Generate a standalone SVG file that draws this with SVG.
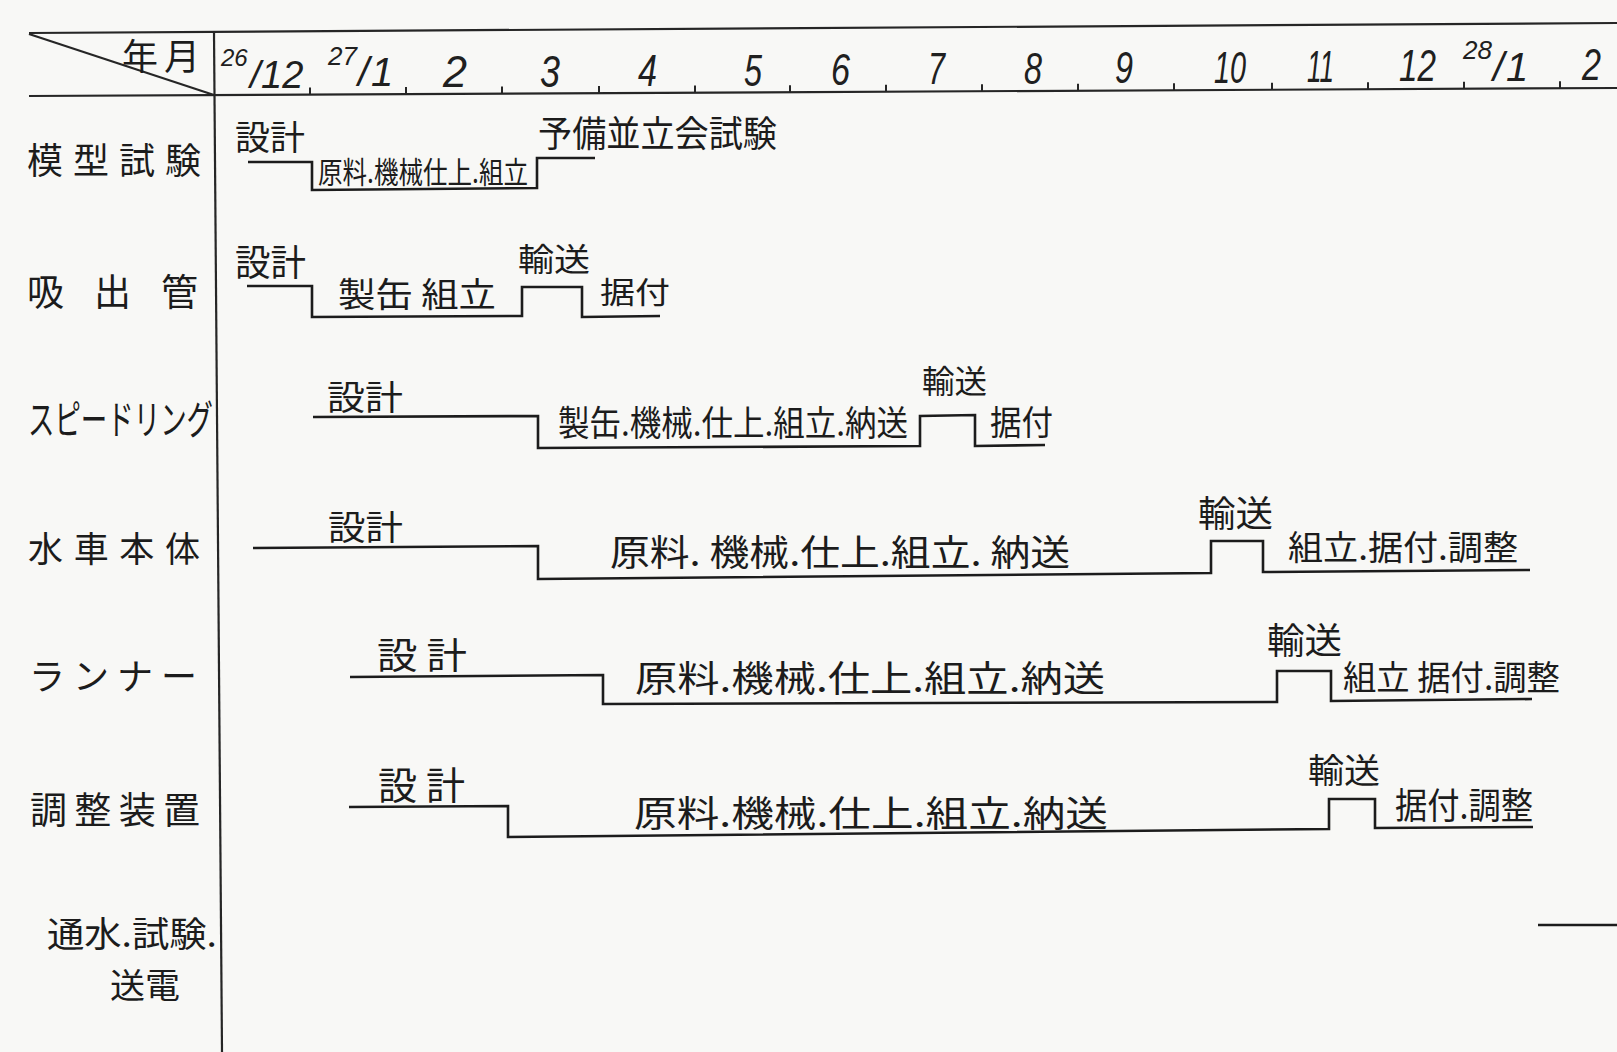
<svg xmlns="http://www.w3.org/2000/svg" width="1617" height="1052" viewBox="0 0 1617 1052">
<style>
.jp{font-family:"Noto Sans CJK JP","Noto Sans CJK SC",sans-serif;fill:#1c1c1c;}
.num{font-family:"Liberation Sans",Arial,sans-serif;font-style:italic;fill:#202020;}
.bar{fill:none;stroke:#1c1c1c;stroke-width:2.6;stroke-linejoin:miter;stroke-linecap:butt;}
.grid{fill:none;stroke:#262626;stroke-width:2.2;}
.tick{fill:none;stroke:#262626;stroke-width:2;}
</style>
<rect x="0" y="0" width="1617" height="1052" fill="#f8f8f6"/>

<g id="header">
  <path class="grid" d="M29,33 L1617,23"/>
  <path class="grid" d="M29,34 L214,95" stroke-width="1.6"/>
  <path class="grid" d="M29,96 L1617,88"/>
  <path class="grid" d="M214,33 L222,1052"/>
  <path class="tick" d="M310,94.6 v-7 M406,94.1 v-7 M502,93.6 v-7 M599,93.1 v-7 M695,92.6 v-7 M790,92.2 v-7 M886,91.7 v-7 M982,91.2 v-7 M1078,90.7 v-7 M1174,90.2 v-7 M1272,89.7 v-7 M1368,89.3 v-7 M1464,88.8 v-7 M1560,88.3 v-7"/>
  <text class="jp" x="122" y="70" font-size="36" textLength="78" lengthAdjust="spacing">年月</text>
  <text class="num" font-size="38"><tspan x="221" y="66" font-size="24">26</tspan><tspan x="250" y="88">/</tspan><tspan x="261" y="88">12</tspan></text>
  <text class="num" font-size="40"><tspan x="328" y="65" font-size="26">27</tspan><tspan x="358" y="86">/</tspan><tspan x="371" y="86">1</tspan></text>
  <text class="num" x="443" y="87" font-size="44" textLength="24" lengthAdjust="spacingAndGlyphs">2</text>
  <text class="num" x="540" y="87" font-size="44" textLength="20" lengthAdjust="spacingAndGlyphs">3</text>
  <text class="num" x="638" y="86" font-size="44" textLength="19" lengthAdjust="spacingAndGlyphs">4</text>
  <text class="num" x="744" y="86" font-size="44" textLength="18" lengthAdjust="spacingAndGlyphs">5</text>
  <text class="num" x="831" y="85" font-size="44" textLength="19" lengthAdjust="spacingAndGlyphs">6</text>
  <text class="num" x="928" y="84" font-size="44" textLength="17" lengthAdjust="spacingAndGlyphs">7</text>
  <text class="num" x="1024" y="84" font-size="44" textLength="18" lengthAdjust="spacingAndGlyphs">8</text>
  <text class="num" x="1115" y="83" font-size="44" textLength="18" lengthAdjust="spacingAndGlyphs">9</text>
  <text class="num" x="1214" y="83" font-size="44" textLength="32" lengthAdjust="spacingAndGlyphs">10</text>
  <text class="num" x="1307" y="82" font-size="44" textLength="27" lengthAdjust="spacingAndGlyphs">11</text>
  <text class="num" x="1399" y="81" font-size="44" textLength="37" lengthAdjust="spacingAndGlyphs">12</text>
  <text class="num" font-size="40"><tspan x="1463" y="59" font-size="26">28</tspan><tspan x="1493" y="81">/</tspan><tspan x="1506" y="81">1</tspan></text>
  <text class="num" x="1582" y="80" font-size="44" textLength="19" lengthAdjust="spacingAndGlyphs">2</text>
</g>

<g id="row-mokei">
  <text class="jp" x="27" y="174" font-size="36" textLength="174" lengthAdjust="spacing">模型試験</text>
  <text class="jp" x="235" y="150" font-size="34" textLength="70" lengthAdjust="spacingAndGlyphs">設計</text>
  <text class="jp" x="318" y="183" font-size="30" textLength="210" lengthAdjust="spacingAndGlyphs">原料.機械仕上.組立</text>
  <text class="jp" x="538" y="147" font-size="36" textLength="239" lengthAdjust="spacingAndGlyphs">予備並立会試験</text>
</g>

<g id="row-suidashi">
  <text class="jp" x="27" y="306" font-size="37" textLength="171" lengthAdjust="spacing">吸出管</text>
  <text class="jp" x="235" y="276" font-size="36" textLength="71" lengthAdjust="spacingAndGlyphs">設計</text>
  <text class="jp" x="338" y="307" font-size="34" textLength="158" lengthAdjust="spacingAndGlyphs">製缶 組立</text>
  <text class="jp" x="518" y="271" font-size="32" textLength="72" lengthAdjust="spacingAndGlyphs">輸送</text>
  <text class="jp" x="600" y="303" font-size="30" textLength="70" lengthAdjust="spacingAndGlyphs">据付</text>
</g>

<g id="row-speedring">
  <text class="jp" x="28" y="434" font-size="40" textLength="185" lengthAdjust="spacingAndGlyphs">スピードリング</text>
  <text class="jp" x="327" y="410" font-size="34" textLength="76" lengthAdjust="spacingAndGlyphs">設計</text>
  <text class="jp" x="558" y="436" font-size="35" textLength="350" lengthAdjust="spacingAndGlyphs">製缶.機械.仕上.組立.納送</text>
  <text class="jp" x="922" y="393" font-size="32" textLength="65" lengthAdjust="spacingAndGlyphs">輸送</text>
  <text class="jp" x="990" y="435" font-size="34" textLength="63" lengthAdjust="spacingAndGlyphs">据付</text>
</g>

<g id="row-suisha">
  <text class="jp" x="28" y="562" font-size="35" textLength="172" lengthAdjust="spacing">水車本体</text>
  <text class="jp" x="328" y="540" font-size="34" textLength="75" lengthAdjust="spacingAndGlyphs">設計</text>
  <text class="jp" x="610" y="566" font-size="36" textLength="460" lengthAdjust="spacingAndGlyphs">原料. 機械.仕上.組立. 納送</text>
  <text class="jp" x="1198" y="527" font-size="36" textLength="75" lengthAdjust="spacingAndGlyphs">輸送</text>
  <text class="jp" x="1288" y="560" font-size="34" textLength="230" lengthAdjust="spacingAndGlyphs">組立.据付.調整</text>
</g>

<g id="row-runner">
  <text class="jp" x="29" y="690" font-size="36" textLength="168" lengthAdjust="spacing">ランナー</text>
  <text class="jp" x="377" y="669" font-size="36" textLength="90" lengthAdjust="spacingAndGlyphs">設 計</text>
  <text class="jp" x="635" y="692" font-size="36" textLength="470" lengthAdjust="spacingAndGlyphs">原料.機械.仕上.組立.納送</text>
  <text class="jp" x="1267" y="654" font-size="36" textLength="75" lengthAdjust="spacingAndGlyphs">輸送</text>
  <text class="jp" x="1343" y="690" font-size="34" textLength="217" lengthAdjust="spacingAndGlyphs">組立 据付.調整</text>
</g>

<g id="row-chosei">
  <text class="jp" x="30" y="824" font-size="37" textLength="170" lengthAdjust="spacing">調整装置</text>
  <text class="jp" x="378" y="799" font-size="38" textLength="87" lengthAdjust="spacingAndGlyphs">設 計</text>
  <text class="jp" x="634" y="827" font-size="36" textLength="474" lengthAdjust="spacingAndGlyphs">原料.機械.仕上.組立.納送</text>
  <text class="jp" x="1308" y="783" font-size="34" textLength="72" lengthAdjust="spacingAndGlyphs">輸送</text>
  <text class="jp" x="1395" y="819" font-size="36" textLength="138" lengthAdjust="spacingAndGlyphs">据付.調整</text>
</g>

<g id="row-tsusui">
  <text class="jp" x="47" y="947" font-size="35" textLength="170" lengthAdjust="spacingAndGlyphs">通水.試験.</text>
  <text class="jp" x="110" y="998" font-size="34" textLength="70" lengthAdjust="spacingAndGlyphs">送電</text>
</g>

<g id="connectors">
  <path class="bar" d="M248,162 L312,162 L312,190 L537,188 L537,158 L595,158"/>
  <path class="bar" d="M247,286 L312,286 L312,317 L522,316 L522,287 L582,287 L582,317 L660,316"/>
  <path class="bar" d="M313,417 L538,416 L538,448 L920,446 L920,416 L975,415 L975,446 L1045,445"/>
  <path class="bar" d="M253,548 L538,546 L538,579 L1211,573 L1211,541 L1263,541 L1263,572 L1530,570"/>
  <path class="bar" d="M350,677 L603,675 L603,704 L1277,702 L1277,671 L1331,671 L1331,701 L1532,699"/>
  <path class="bar" d="M349,807 L508,806 L508,837 L1329,829 L1329,799 L1375,799 L1375,828 L1533,827"/>
  <path class="bar" d="M1538,925 L1617,925"/>
</g>
</svg>
